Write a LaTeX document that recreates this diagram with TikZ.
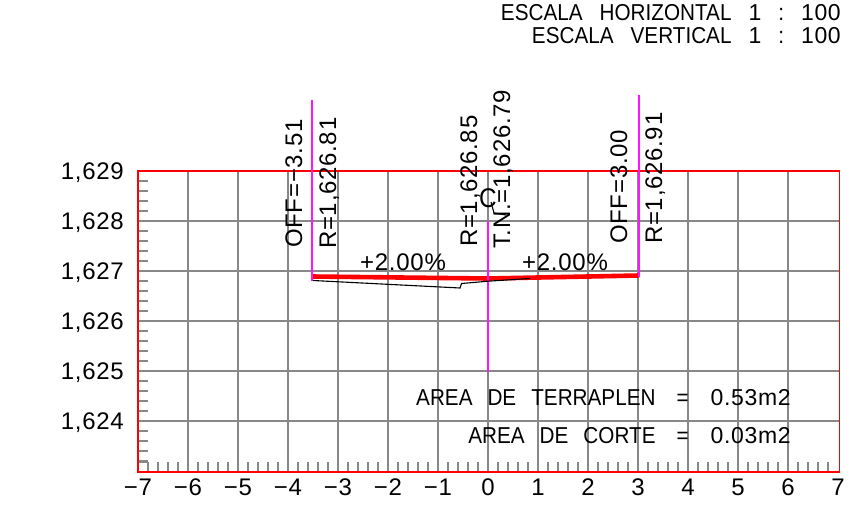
\documentclass[tikz,border=0pt]{standalone}
\usepackage{fontspec}
\setmainfont{Liberation Sans}
\newfontfamily\numf[LetterSpace=3]{Liberation Sans}
\newfontfamily\capf[FakeStretch=0.9]{Liberation Sans}
\definecolor{pinkline}{RGB}{255,20,255}
\definecolor{gridgray}{RGB}{136,136,136}
\tikzset{
  gridline/.style={draw=gridgray,line width=1.8pt},
  tickline/.style={draw=gridgray,line width=1.2pt},
  frameline/.style={draw=red,line width=1.6pt},
  axisline/.style={draw=pinkline,line width=1.9pt},
  lab/.style={font=\fontsize{24}{24}\selectfont\numf,inner sep=0pt},
  vlab/.style={lab,rotate=90,anchor=base west},
  captext/.style={font=\fontsize{23}{23}\selectfont\capf,inner sep=0pt,anchor=base east},
}
\newcommand{\sq}{\hspace{17pt}}
\newcommand{\sqa}{\hspace{15pt}}
\newcommand{\sqb}{\hspace{21pt}}
\newcommand{\sqc}{\hspace{22pt}}
\newcommand{\nm}[1]{{\fontsize{23}{23}\selectfont\numf #1}}
\begin{document}
\begin{tikzpicture}[x=1pt,y=-1pt]
\useasboundingbox (0,0) rectangle (864,508);
\foreach \i in {1,...,13} \draw[gridline] ({138+50*\i},171) -- ({138+50*\i},472);
\foreach \j in {1,...,5} \draw[gridline] (138,{171+50*\j}) -- (839.5,{171+50*\j});
\foreach \j in {0,...,5} \foreach \k in {1,2,3,4}
  \draw[tickline] (138,{171+50*\j+10*\k}) -- (148,{171+50*\j+10*\k});
\foreach \i in {0,...,13} \foreach \k in {1,2,3,4}
  \draw[tickline] ({138+50*\i+10*\k},472) -- ({138+50*\i+10*\k},462);
\draw[tickline] (138,462) -- (148,462);
\draw[frameline] (138,171) rectangle (839.5,472);
\node[lab,anchor=base east] (ya) at (124,179) {1,629};
\node[lab,anchor=base east] (yb) at (124,229) {1,628};
\node[lab,anchor=base east] (yc) at (124,279) {1,627};
\node[lab,anchor=base east] (yd) at (124,329) {1,626};
\node[lab,anchor=base east] (ye) at (124,379) {1,625};
\node[lab,anchor=base east] (yf) at (124,429) {1,624};
\foreach \n [count=\c from 0] in {−7,−6,−5,−4,−3,−2,−1,0,1,2,3,4,5,6,7}
  \node[lab,anchor=base] (x\c) at ({138+50*\c},495) {\n};
\node[captext] (t1) at (841,21) {ESCALA\sq HORIZONTAL\sq \nm{1}\sq :\sq \nm{100}};
\node[captext] (t2) at (841,44) {ESCALA\sq VERTICAL\sq \nm{1}\sq :\sq \nm{100}};
\node[captext] (a1) at (791,405) {AREA\sqa DE\sqa TERRAPLEN\sqb =\sqc \nm{0.53m2}};
\node[captext] (a2) at (791,443) {AREA\sqa DE\sqa CORTE\sqb =\sqc \nm{0.03m2}};
\coordinate (la) at (312,100); \coordinate (lb) at (312,281);
\coordinate (ca) at (488,221); \coordinate (cb) at (488,372);
\coordinate (ra) at (639,95); \coordinate (rb) at (639,277);
\coordinate (p1) at (312,276.5); \coordinate (p2) at (488,278.5); \coordinate (p3) at (639,275.5);
\draw[draw=red,line width=4.6pt] (p1) -- (p2) -- (p3);
\draw[draw=red,line width=2.4pt] (312,273) -- (312,281);
\draw[axisline] (la) -- (lb);
\draw[axisline] (ca) -- (cb);
\draw[axisline] (ra) -- (rb);
\draw[draw=black,line width=1.1pt] (313,280.5) -- (460,288) -- (461.5,283.5) -- (488,281.2) -- (530,278.5);
\node[vlab] (o1) at (302,248) {OFF=−3.51};
\node[vlab] (r1) at (336,249) {R=1,626.81};
\node[vlab] (r2) at (477,247) {R=1,626.85};
\node[vlab] (tn) at (510,249) {T.N.=1,626.79};
\node[vlab] (o2) at (627,244) {OFF=3.00};
\node[vlab] (r3) at (662,244) {R=1,626.91};
\node[lab,anchor=base west] (s1) at (360,270) {+2.00\%};
\node[lab,anchor=base west] (s2) at (522,270) {+2.00\%};
\node[font=\fontsize{27}{27}\selectfont\capf,inner sep=0pt] (cl) at (488,198) {C};
\draw[draw=black,line width=1.1pt] (491,202) -- (494,213) -- (506,215);
\end{tikzpicture}
\end{document}
